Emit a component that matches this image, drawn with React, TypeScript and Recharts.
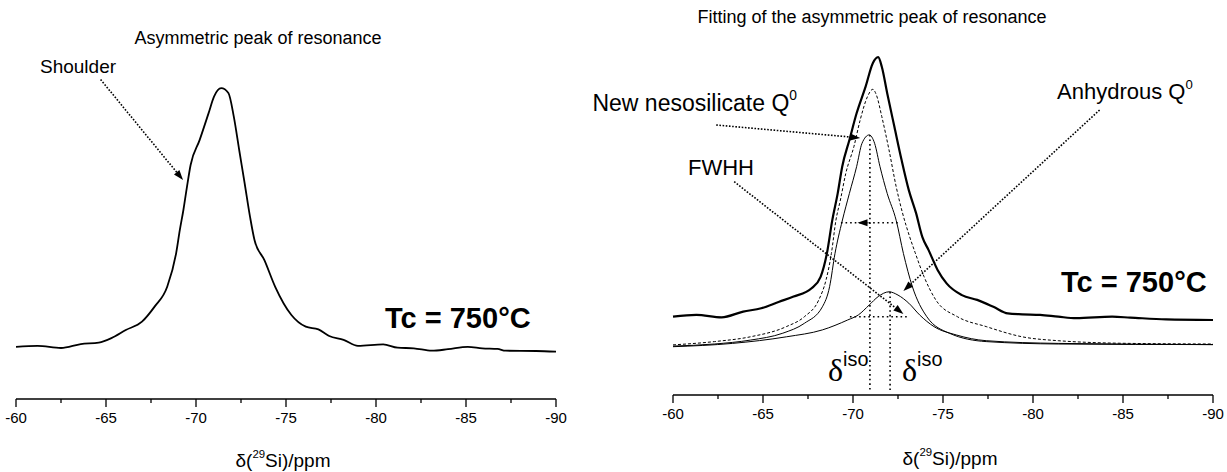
import React from "react";
import { LineChart, Line, XAxis, YAxis, ReferenceLine } from "recharts";

const SANS = '"Liberation Sans", Arial, sans-serif';
const SERIF = '"Liberation Serif", "Times New Roman", serif';

const ppmTicks = [-60, -62.5, -65, -67.5, -70, -72.5, -75, -77.5, -80, -82.5, -85, -87.5, -90];

// left panel: measured spectrum (asymmetric peak)
const leftPpm = [
  -60.0, -61.2, -62.5, -63.6, -64.6, -65.3, -66.1, -67.0, -67.7, -68.4, -68.9, -69.1, -69.3,
  -69.5, -69.7, -70.2, -70.7, -71.0, -71.4, -71.8, -72.1, -72.4, -72.7, -73.0, -73.25, -73.8,
  -74.4, -75.3, -76.1, -76.8, -77.4, -78.2, -79.0, -80.4, -81.2, -82.1, -83.1, -84.0, -85.1,
  -85.9, -86.75, -87.2, -88.9, -90.0,
];
const leftIntensity = [
  17.4, 17.7, 17.0, 18.3, 18.8, 20.3, 23.0, 25.8, 30.8, 37.4, 48.7, 56.3, 63.0,
  70.8, 78.0, 86.3, 95.3, 100.8, 103.6, 102.0, 94.1, 83.0, 72.0, 60.8, 53.0, 46.3,
  37.4, 28.0, 24.1, 23.2, 21.0, 19.7, 17.7, 18.2, 17.1, 16.9, 16.1, 16.6, 17.4,
  16.9, 16.7, 16.1, 16.0, 15.8,
];

// right panel: measured spectrum (thick line)
const expPpm = [
  -60.0, -61.3, -62.7, -63.9, -64.9, -65.9, -66.7, -67.7, -68.2, -68.55, -68.85, -69.15, -69.4,
  -69.8, -70.2, -70.7, -71.1, -71.4, -71.6, -71.9, -72.3, -72.7, -73.1, -73.5, -73.85, -74.2,
  -74.7, -75.2, -76.05, -76.9, -77.8, -78.6, -79.4, -80.4, -81.4, -82.4, -84.4, -85.4, -87.4, -90.0,
];
const expIntensity = [
  26.1, 26.7, 25.9, 27.8, 28.9, 31.1, 32.8, 35.6, 39.4, 47.2, 58.3, 67.2, 76.1,
  85.0, 93.9, 102.8, 110.6, 112.6, 109.4, 100.6, 89.4, 78.3, 68.3, 60.7, 52.7, 48.3,
  41.7, 37.2, 33.3, 31.7, 29.4, 27.2, 26.9, 26.7, 26.1, 25.6, 26.1, 25.8, 25.2, 25.0,
];

// right panel: sum of the fit (dashed)
const sumPpm = [
  -60, -62.3, -64.3, -66.3, -67.3, -68.1, -68.5, -68.8, -69.05, -69.3, -69.6, -70.05, -70.4,
  -70.8, -71.1, -71.3, -71.6, -72.0, -72.4, -72.75, -73.15, -73.45, -73.95, -74.6, -75.8, -77.4,
  -79.4, -81.4, -85.4, -90,
];
const sumIntensity = [
  16.7, 17.8, 19.4, 22.8, 26.1, 31.7, 38.3, 47.2, 58.2, 65.0, 73.9, 82.8, 91.7,
  99.4, 101.9, 100.0, 92.8, 81.7, 69.4, 60.7, 52.7, 47.5, 39.4, 31.7, 26.1, 22.8,
  19.4, 18.1, 17.2, 17.0,
];

// right panel: new nesosilicate Q0 component
const nesoPpm = [
  -60, -62.3, -64.3, -66.1, -67.3, -68.3, -68.7, -69.0, -69.4, -69.8, -70.2, -70.5, -70.9,
  -71.2, -71.5, -71.9, -72.4, -72.8, -73.3, -74.1, -75.35, -77.4, -81.4, -90,
];
const nesoIntensity = [
  16.3, 17.0, 18.3, 20.6, 23.9, 29.4, 36.1, 47.2, 58.0, 67.2, 76.1, 83.9, 86.7,
  83.9, 76.1, 67.2, 58.2, 47.2, 36.1, 26.1, 20.6, 17.8, 17.0, 16.8,
];

// right panel: anhydrous Q0 component
const anhPpm = [
  -60, -63.3, -66.3, -68.3, -69.7, -70.3, -70.9, -71.4, -72.0, -72.5, -73.1, -73.7, -74.5,
  -75.75, -77.4, -81.4, -90,
];
const anhIntensity = [
  16.1, 17.2, 19.4, 21.7, 25.0, 26.7, 30.0, 32.8, 34.4, 33.3, 30.6, 26.7, 22.8,
  20.0, 18.1, 17.2, 16.8,
];

// isotropic shifts and half-height levels
const nesoIso = -70.94;
const nesoTop = 86.7;
const nesoHalf = 57.4;
const nesoHalfRange = [-69.33, -72.5];
const anhIso = -72.06;
const anhTop = 34.4;
const anhHalf = 26.1;
const anhHalfRange = [-69.83, -73.0];

const zip = (xs: number[], ys: number[]) => xs.map((ppm, i) => ({ ppm, v: ys[i] }));

function PpmTick(props: any) {
  const { x, y, payload } = props;
  const v = payload.value as number;
  const major = Math.abs(v % 5) < 1e-6;
  return (
    <g>
      <line x1={x} x2={x} y1={y} y2={y + (major ? 8 : 4)} stroke="#000" strokeWidth={1.3} />
      {major && (
        <text x={x} y={y + 24} textAnchor="middle" fontSize={15} fontFamily={SANS} fill="#000">
          {v}
        </text>
      )}
    </g>
  );
}

function DottedArrow(props: any) {
  const { x1, y1, x2, y2 } = props;
  const a = Math.atan2(y2 - y1, x2 - x1);
  const L = 10;
  const W = 3.5;
  const bx = x2 - L * Math.cos(a);
  const by = y2 - L * Math.sin(a);
  const nx = -Math.sin(a) * W;
  const ny = Math.cos(a) * W;
  return (
    <g>
      <line x1={x1} y1={y1} x2={bx} y2={by} stroke="#000" strokeWidth={1.6} strokeDasharray="1.6 1.6" />
      <polygon points={`${x2},${y2} ${bx + nx},${by + ny} ${bx - nx},${by - ny}`} fill="#000" />
    </g>
  );
}

function Txt(props: {
  x: number;
  y: number;
  size: number;
  anchor?: "start" | "middle" | "end";
  bold?: boolean;
  family?: string;
  children: React.ReactNode;
}) {
  const { x, y, size, anchor = "start", bold, family = SANS, children } = props;
  const shift = anchor === "middle" ? "translateX(-50%)" : anchor === "end" ? "translateX(-100%)" : undefined;
  return (
    <div
      style={{
        position: "absolute",
        left: x,
        top: y - size * 0.5,
        fontSize: size,
        lineHeight: 1,
        fontFamily: family,
        fontWeight: bold ? 700 : 400,
        whiteSpace: "nowrap",
        color: "#000",
        transform: shift,
      }}
    >
      {children}
    </div>
  );
}

const Sup = ({ children, size = 0.6 }: { children: React.ReactNode; size?: number }) => (
  <span style={{ fontSize: `${size}em`, position: "relative", top: "-0.75em" }}>{children}</span>
);

const dotted = { stroke: "#000", strokeWidth: 1.6, strokeDasharray: "1.6 3" };

export default function App() {
  return (
    <div
      style={{
        position: "absolute",
        left: 0,
        top: 0,
        width: 1227,
        height: 472,
        background: "#fff",
        overflow: "hidden",
      }}
    >
      <div style={{ position: "absolute", left: 0, top: 0 }}>
        <LineChart width={600} height={472} margin={{ top: 69, right: 44, bottom: 0, left: 16 }}>
          <XAxis
            type="number"
            dataKey="ppm"
            domain={[-90, -60]}
            reversed
            ticks={ppmTicks}
            interval={0}
            height={73}
            tickSize={0}
            tickMargin={0}
            tickLine={false}
            axisLine={{ stroke: "#000", strokeWidth: 1.4 }}
            tick={<PpmTick />}
          />
          <YAxis hide domain={[0, 110]} />
          <Line
            data={zip(leftPpm, leftIntensity)}
            dataKey="v"
            type="monotone"
            stroke="#000"
            strokeWidth={1.8}
            dot={false}
            activeDot={false}
            isAnimationActive={false}
          />
          <ReferenceLine
            ifOverflow="visible"
            segment={[{ x: -64.7, y: 106.5 }, { x: -69.28, y: 73 }]}
            shape={DottedArrow}
          />
        </LineChart>
      </div>

      <div style={{ position: "absolute", left: 600, top: 0 }}>
        <LineChart width={627} height={472} margin={{ top: 50, right: 14, bottom: 0, left: 73 }}>
          <XAxis
            type="number"
            dataKey="ppm"
            domain={[-90, -60]}
            reversed
            ticks={ppmTicks}
            interval={0}
            height={77}
            tickSize={0}
            tickMargin={0}
            tickLine={false}
            axisLine={{ stroke: "#000", strokeWidth: 1.4 }}
            tick={<PpmTick />}
          />
          <YAxis hide domain={[0, 115]} />
          <Line
            data={zip(anhPpm, anhIntensity)}
            dataKey="v"
            type="monotone"
            stroke="#000"
            strokeWidth={1}
            dot={false}
            activeDot={false}
            isAnimationActive={false}
          />
          <Line
            data={zip(nesoPpm, nesoIntensity)}
            dataKey="v"
            type="monotone"
            stroke="#000"
            strokeWidth={1}
            dot={false}
            activeDot={false}
            isAnimationActive={false}
          />
          <Line
            data={zip(sumPpm, sumIntensity)}
            dataKey="v"
            type="monotone"
            stroke="#000"
            strokeWidth={1}
            strokeDasharray="3 2"
            dot={false}
            activeDot={false}
            isAnimationActive={false}
          />
          <Line
            data={zip(expPpm, expIntensity)}
            dataKey="v"
            type="monotone"
            stroke="#000"
            strokeWidth={2.2}
            dot={false}
            activeDot={false}
            isAnimationActive={false}
          />
          <ReferenceLine ifOverflow="visible" segment={[{ x: nesoIso, y: nesoTop }, { x: nesoIso, y: 1.5 }]} {...dotted} />
          <ReferenceLine ifOverflow="visible" segment={[{ x: anhIso, y: anhTop }, { x: anhIso, y: 1.5 }]} {...dotted} />
          <ReferenceLine
            ifOverflow="visible"
            segment={[{ x: nesoHalfRange[0], y: nesoHalf }, { x: nesoHalfRange[1], y: nesoHalf }]}
            {...dotted}
          />
          <ReferenceLine
            ifOverflow="visible"
            segment={[{ x: anhHalfRange[0], y: anhHalf }, { x: anhHalfRange[1], y: anhHalf }]}
            {...dotted}
          />
          <ReferenceLine
            ifOverflow="visible"
            segment={[{ x: -70.75, y: nesoHalf }, { x: -70.25, y: nesoHalf }]}
            shape={DottedArrow}
          />
          <ReferenceLine
            ifOverflow="visible"
            segment={[{ x: -62.4, y: 90 }, { x: -70.4, y: 85.7 }]}
            shape={DottedArrow}
          />
          <ReferenceLine
            ifOverflow="visible"
            segment={[{ x: -63.4, y: 71.1 }, { x: -72.8, y: 27 }]}
            shape={DottedArrow}
          />
          <ReferenceLine
            ifOverflow="visible"
            segment={[{ x: -83.7, y: 95 }, { x: -72.8, y: 34.7 }]}
            shape={DottedArrow}
          />
        </LineChart>
      </div>

      <Txt x={258} y={38} size={18} anchor="middle">Asymmetric peak of resonance</Txt>
      <Txt x={40} y={66} size={19}>Shoulder</Txt>
      <Txt x={385} y={318} size={29} bold>Tc = 750°C</Txt>
      <Txt x={283} y={460} size={19} anchor="middle">
        δ(<Sup>29</Sup>Si)/ppm
      </Txt>

      <Txt x={872} y={17} size={18} anchor="middle">Fitting of the asymmetric peak of resonance</Txt>
      <Txt x={797} y={103} size={23} anchor="end">
        New nesosilicate Q<Sup>0</Sup>
      </Txt>
      <Txt x={1057} y={92} size={22}>
        Anhydrous Q<Sup>0</Sup>
      </Txt>
      <Txt x={688} y={168} size={22}>FWHH</Txt>
      <Txt x={1061} y={282} size={29} bold>Tc = 750°C</Txt>
      <Txt x={828} y={370} size={32} family={SERIF}>
        δ<span style={{ fontFamily: SANS, fontSize: "0.62em", position: "relative", top: "-0.75em" }}>iso</span>
      </Txt>
      <Txt x={902} y={370} size={32} family={SERIF}>
        δ<span style={{ fontFamily: SANS, fontSize: "0.62em", position: "relative", top: "-0.75em" }}>iso</span>
      </Txt>
      <Txt x={950} y={458} size={19} anchor="middle">
        δ(<Sup>29</Sup>Si)/ppm
      </Txt>
    </div>
  );
}
